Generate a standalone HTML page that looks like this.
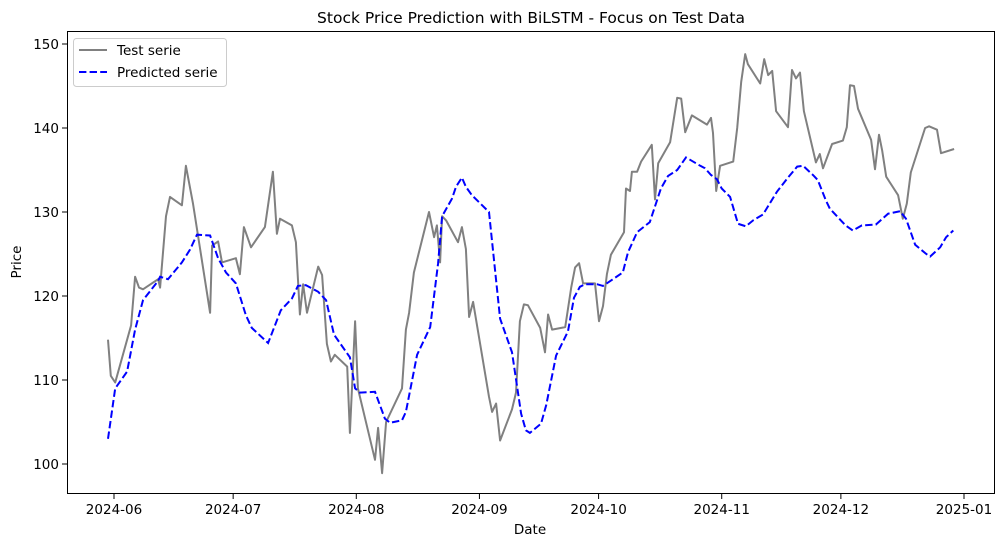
<!DOCTYPE html>
<html><head><meta charset="utf-8"><style>
html,body{margin:0;padding:0;background:#fff;}
svg{display:block;font-family:"DejaVu Sans","Liberation Sans",sans-serif;}
</style></head><body>
<svg id="chart" width="1005" height="547" viewBox="0 0 1005 547">
<rect x="0" y="0" width="1005" height="547" fill="#fff"/>
<text x="531" y="23" font-size="15.5" text-anchor="middle" fill="#000">Stock Price Prediction with BiLSTM - Focus on Test Data</text>
<g id="xticks"></g>
<g id="yticks"></g>
<g id="series"></g>
<rect x="67.5" y="31.5" width="927" height="462" fill="none" stroke="#000" stroke-width="1"/>
<text x="530" y="534" font-size="13.5" text-anchor="middle">Date</text>
<text x="21" y="262" font-size="13.5" text-anchor="middle" transform="rotate(-90 21 262)">Price</text>
<g>
<rect x="73.5" y="38.5" width="153" height="48" rx="3" fill="#fff" fill-opacity="0.8" stroke="#ccc"/>
<g>
<line x1="79" y1="50" x2="107" y2="50" stroke="#808080" stroke-width="2"/>
<text x="117" y="55" font-size="13.5">Test serie</text></g>
<g>
<line x1="79" y1="72" x2="107" y2="72" stroke="#0000ff" stroke-width="2" stroke-dasharray="7.4,3.2"/>
<text x="117" y="77" font-size="13.5">Predicted serie</text></g>
</g>
</svg>
<script>
const xTickLabels=["2024-06","2024-07","2024-08","2024-09","2024-10","2024-11","2024-12","2025-01"];
const xTickDays=[0,30,61,92,122,153,183,214];
const yTickValues=[100,110,120,130,140,150];
const testDays=[-1.5,-0.8,0.3,4.3,5.3,6.3,7.3,11.1,11.6,13.1,14.1,17.1,18.1,19.9,24.2,24.7,26.2,27.2,30.7,31.7,32.7,34.5,38.0,40.0,41.0,41.8,44.8,45.8,46.8,47.6,48.6,51.4,52.4,53.6,54.6,55.6,58.7,59.4,60.7,61.4,65.7,66.5,67.5,68.5,72.5,73.5,74.3,75.5,79.3,80.6,81.3,82.1,82.6,83.6,86.6,87.6,88.6,89.4,90.4,94.4,95.2,96.2,97.2,100.2,101.2,102.2,103.2,104.2,107.3,108.5,109.3,110.3,113.6,115.1,116.1,117.1,118.1,121.1,122.1,123.1,124.1,125.1,128.4,128.9,129.9,130.4,131.7,132.7,135.4,136.2,137.0,140.0,141.8,142.8,143.8,145.5,149.3,150.3,150.8,151.6,152.6,155.9,156.9,157.9,158.9,159.6,162.7,163.7,164.7,165.7,166.7,169.7,170.7,171.7,172.7,173.7,176.7,177.7,178.5,180.8,183.5,184.5,185.3,186.3,187.3,190.6,191.6,192.6,193.4,194.4,197.4,198.6,199.6,200.6,204.2,205.2,207.2,208.2,211.5];
const testValues=[114.8,110.5,109.7,116.5,122.3,121,120.8,122,121,129.5,131.8,130.8,135.5,131,118,126,126.5,124,124.5,122.6,128.2,125.8,128.2,134.8,127.4,129.2,128.4,126.4,117.8,121.4,118,123.5,122.5,114.3,112.2,113,111.6,103.7,117,109,100.5,104.3,98.9,105,109,116,118,122.8,130,127,128.4,124,129.5,129,126.4,128.2,125.6,117.5,119.3,108,106.2,107.2,102.8,106.5,108.5,117,119,118.9,116.2,113.3,117.8,116,116.3,121,123.4,123.9,121.5,121.5,117,118.8,122.6,124.9,127.6,132.8,132.5,134.8,134.8,136,138,131.5,135.8,138.3,143.6,143.5,139.5,141.5,140.4,141.2,139.4,132.5,135.5,136,140,145.5,148.8,147.6,145.3,148.2,146.3,146.8,142,140.1,146.9,145.9,146.6,142,135.9,136.9,135.2,138.1,138.5,140.1,145.1,145,142.3,138.6,135.1,139.2,137.3,134.2,132,129.2,131,134.7,140,140.2,139.8,137,137.5];
const predDays=[-1.5,0.3,3.3,5.3,7.3,11.1,11.6,13.6,17.1,19.1,20.9,24.2,26.2,28.2,30.7,33.2,34.7,38.8,42.0,44.8,46.3,48.3,51.4,53.4,55.4,58.2,59.4,60.7,61.9,65.7,68.2,69.5,72.5,73.5,76.3,79.6,81.6,82.6,85.1,86.1,87.6,88.6,90.1,94.4,97.2,100.2,102.5,103.7,104.7,107.5,108.8,111.3,114.3,115.8,117.3,118.6,121.6,123.1,128.1,129.4,131.7,134.9,137.7,139.5,141.8,144.0,147.6,148.8,150.3,151.8,153.0,155.1,157.1,159.1,160.9,163.4,166.9,169.7,172.0,173.5,176.2,177.2,179.2,180.2,184.2,186.0,188.3,191.8,194.9,197.9,199.4,201.7,204.5,205.5,208.0,209.5,211.3];
const predValues=[103,109,111,116,119.5,121.8,122.3,122,124,125.5,127.3,127.2,124.5,122.8,121.5,117.7,116.2,114.4,118.3,119.7,121.2,121.3,120.5,119.5,115.4,113.5,112.7,109,108.5,108.6,105.4,104.9,105.2,106.2,113,116.3,123.9,129.5,131.6,133,134.1,133,132,130,117.3,113.3,106,104,103.7,104.8,107,112.9,115.8,119.8,121.1,121.4,121.4,121.2,122.8,125.2,127.6,128.8,132.8,134.3,135,136.5,135.5,135.2,134.4,133.9,132.8,131.8,128.6,128.3,129,129.7,132.4,134.1,135.4,135.5,134.3,133.8,131.4,130.4,128.4,127.8,128.4,128.5,129.8,130.1,129.2,126.1,125,124.7,125.8,127,127.8];

const NS="http://www.w3.org/2000/svg";
function xScale(d){return 114+d*3.972;}
function yScale(v){return 44+(150-v)*8.4;}
function mk(tag,attrs,parent){const e=document.createElementNS(NS,tag);for(const k in attrs)e.setAttribute(k,attrs[k]);parent.appendChild(e);return e;}
const gx=document.getElementById('xticks'),gy=document.getElementById('yticks'),gs=document.getElementById('series');
xTickLabels.forEach((lab,i)=>{
  const x=xScale(xTickDays[i]);
  const l=mk('line',{x1:x,y1:494,x2:x,y2:499,stroke:'#000'},gx);
  
  
  const t=mk('text',{x:x,y:514,'font-size':'13.5','text-anchor':'middle'},gx);
  t.textContent=lab;
  
  
});
yTickValues.forEach(v=>{
  const y=yScale(v);
  const l=mk('line',{x1:62,y1:y,x2:67,y2:y,stroke:'#000'},gy);
  
  
  const t=mk('text',{x:59,y:y+5,'font-size':'13.5','text-anchor':'end'},gy);
  t.textContent=v;
  
  
});
function pts(ds,vs){return ds.map((d,i)=>xScale(d).toFixed(1)+','+yScale(vs[i]).toFixed(1)).join(' ');}
const p1=mk('polyline',{points:pts(testDays,testValues),fill:'none',stroke:'#808080','stroke-width':'2','stroke-linejoin':'round'},gs);


const p2=mk('polyline',{points:pts(predDays,predValues),fill:'none',stroke:'#0000ff','stroke-width':'2','stroke-dasharray':'7.4,3.2'},gs);


</script>
</body></html>
